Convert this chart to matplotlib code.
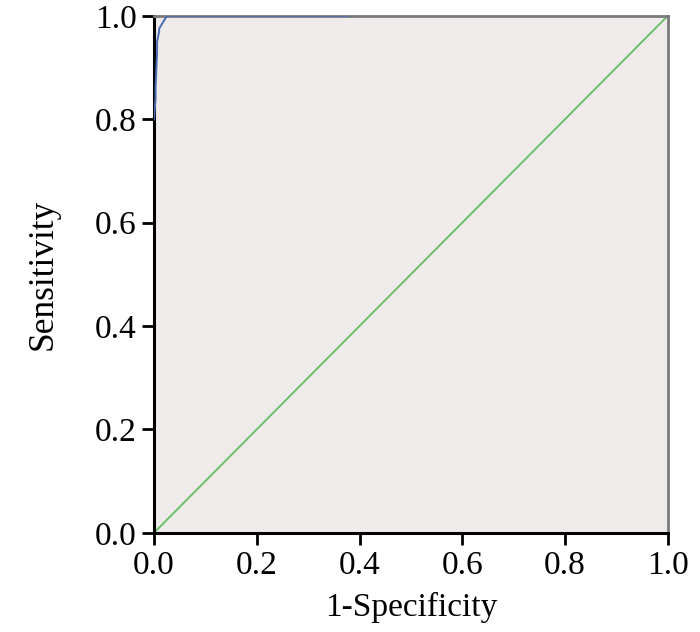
import matplotlib
matplotlib.use("Agg")
import matplotlib.pyplot as plt

# ROC curve points (1-Specificity, Sensitivity)
fpr = [0.0, 0.0, 0.003, 0.003, 0.006, 0.006, 0.010, 0.010, 0.025, 0.38]
tpr = [0.0, 0.80, 0.84, 0.86, 0.93, 0.95, 0.97, 0.975, 1.0, 1.0]
ref_x = [0.0, 1.0]
ref_y = [0.0, 1.0]
ticks = [0.0, 0.2, 0.4, 0.6, 0.8, 1.0]
tick_labels = ["0.0", "0.2", "0.4", "0.6", "0.8", "1.0"]

plt.rcParams['font.family'] = ['Liberation Serif', 'DejaVu Serif']

fig = plt.figure(figsize=(7.0, 6.32), dpi=100)
ax = fig.add_axes([0.22, 0.157, 0.734, 0.818])
ax.set_facecolor('#efebea')

ax.plot(ref_x, ref_y, color='#6cbf6a', lw=1.4, zorder=2)
ax.plot(fpr[1:], tpr[1:], color='#4a6bb5', lw=1.4, zorder=3)

ax.set_xlim(0, 1)
ax.set_ylim(0, 1)
ax.set_xticks(ticks)
ax.set_xticklabels(tick_labels)
ax.set_yticks(ticks)
ax.set_yticklabels(tick_labels)
ax.tick_params(axis='both', direction='out', length=8.6, width=2, labelsize=24, pad=4)

for s in ['left', 'bottom']:
    ax.spines[s].set_color('black')
    ax.spines[s].set_linewidth(2.2)
for s in ['top', 'right']:
    ax.spines[s].set_color('#7a7a7a')
    ax.spines[s].set_linewidth(2.0)

ax.set_xlabel('1-Specificity', fontsize=24, labelpad=8)
ax.set_ylabel('Sensitivity', fontsize=25.5, labelpad=25)

fig.savefig('out.png', dpi=100)
